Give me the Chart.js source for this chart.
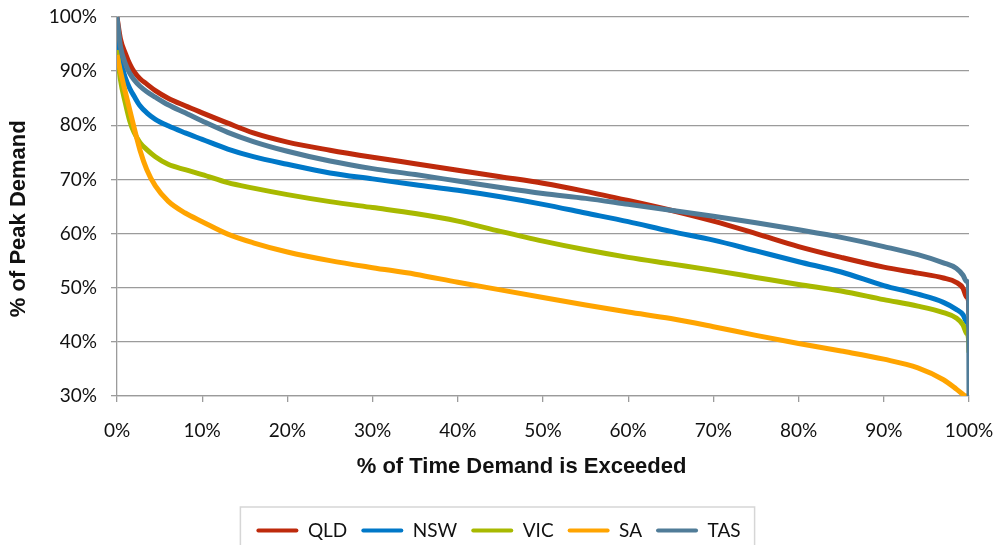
<!DOCTYPE html>
<html>
<head>
<meta charset="utf-8">
<title>Load Duration Curves by Region</title>
<script src="https://cdn.jsdelivr.net/npm/chart.js@4.4.1/dist/chart.umd.min.js"></script>
<style>
  html, body { margin: 0; padding: 0; background: #ffffff; }
  #wrap { width: 997px; height: 545px; }
</style>
</head>
<body>
<div id="wrap"><canvas id="ldc" width="997" height="545"></canvas></div>
<script>
// Share of the year (%) for which demand is exceeded
const timeExceeded = [0, 0.4, 1, 1.5, 2, 2.7, 3.5, 4.5, 6, 8, 10, 13, 16, 20, 25, 30, 35, 40, 45, 50,
                      55, 60, 65, 70, 75, 80, 85, 90, 94, 97, 98.5, 99.3, 99.7, 99.95, 100];

// Demand as % of each region's peak
const qld = [100, 96, 93.2, 91.3, 89.9, 88.6, 87.6, 86.4, 85.0, 83.6, 82.3, 80.4, 78.6, 76.9, 75.4, 74.1, 72.9, 71.7, 70.5, 69.3,
             67.8, 66.1, 64.3, 62.3, 60.0, 57.6, 55.6, 53.8, 52.7, 51.8, 51.0, 49.9, 48.3, 47.5, 45];
const nsw = [96, 92, 88.7, 86.8, 85.4, 83.6, 82.3, 81.1, 79.9, 78.6, 77.4, 75.6, 74.2, 72.8, 71.2, 70.1, 69.0, 68.0, 66.8, 65.4,
             63.8, 62.2, 60.4, 58.8, 56.8, 54.8, 52.9, 50.4, 48.8, 47.3, 46.0, 45.0, 43.7, 42.5, 40];
const vic = [93.9, 88.5, 84, 80.8, 78.7, 76.8, 75.5, 74.2, 72.8, 71.8, 70.9, 69.4, 68.4, 67.2, 65.9, 64.8, 63.7, 62.3, 60.4, 58.6,
             57.0, 55.6, 54.4, 53.2, 51.9, 50.6, 49.4, 47.8, 46.6, 45.4, 44.4, 43.1, 41.6, 40.5, 38];
const sa  = [93, 90, 86, 82.8, 79.6, 75.4, 71.8, 68.8, 66.0, 63.8, 62.2, 59.9, 58.3, 56.6, 55.0, 53.7, 52.5, 51.0, 49.6, 48.2,
             46.8, 45.5, 44.3, 42.8, 41.2, 39.7, 38.3, 36.8, 35.2, 33.0, 31.3, 30.3, 30, 30, 30];
const tas = [100, 94.6, 91.3, 89.6, 88.4, 87.2, 86.2, 85.2, 83.8, 82.3, 80.8, 78.7, 77.0, 75.2, 73.4, 72.0, 70.9, 69.7, 68.5, 67.4,
             66.5, 65.4, 64.3, 63.2, 62.0, 60.7, 59.3, 57.6, 56.1, 54.6, 53.6, 52.3, 51.2, 50.5, 30];

const regions = ['QLD', 'NSW', 'VIC', 'SA', 'TAS'];
const regionValues = [qld, nsw, vic, sa, tas];
const regionColors = ['#BE2A0C', '#0078C8', '#A8B900', '#FFA400', '#507C98'];

const TICK_FONT = { family: 'Lato, "Open Sans", sans-serif', size: 19 };
const TITLE_FONT = { family: '"Liberation Sans", Arial, sans-serif', size: 22, weight: 'bold' };
const GRID_COLOR = '#9b9b9b';
const BOTTOM_SHIFT = 5;   // legend row sits a little lower than the canvas edge allows

const datasets = regions.map((name, i) => ({
  label: name,
  data: timeExceeded.map((x, k) => ({ x: x, y: regionValues[i][k] })),
  borderColor: regionColors[i],
  backgroundColor: regionColors[i],
  borderWidth: 5,
  pointRadius: 0,
  cubicInterpolationMode: 'monotone',
  fill: false,
  // later series are painted over earlier ones
  order: regions.length - i
}));

// Light frame around the legend row
const legendFrame = {
  id: 'legendFrame',
  afterDraw(chart) {
    const lg = chart.legend;
    if (!lg || !lg.legendHitBoxes || !lg.legendHitBoxes.length) return;
    const boxes = lg.legendHitBoxes;
    const left = Math.min(...boxes.map(b => b.left)) - 16;
    const right = Math.max(...boxes.map(b => b.left + b.width)) + 14;
    const ctx = chart.ctx;
    ctx.save();
    ctx.strokeStyle = '#d6d6d6';
    ctx.lineWidth = 1.5;
    ctx.strokeRect(left, 507, right - left, chart.height);
    ctx.restore();
  }
};

new Chart(document.getElementById('ldc'), {
  type: 'line',
  data: { datasets },
  plugins: [legendFrame],
  options: {
    responsive: false,
    animation: false,
    events: [],
    layout: { padding: { top: 0, left: 0, right: 0, bottom: -BOTTOM_SHIFT } },
    scales: {
      x: {
        type: 'linear',
        min: 0,
        max: 100,
        ticks: {
          stepSize: 10,
          font: TICK_FONT,
          color: '#111',
          padding: 17,
          maxRotation: 0,
          callback: v => v + '%'
        },
        grid: { drawOnChartArea: false, drawTicks: true, tickLength: 6, color: GRID_COLOR, lineWidth: 1.3 },
        border: { color: GRID_COLOR, width: 1.3 },
        title: {
          display: true,
          // trailing spaces nudge the centred caption slightly left
          text: '% of Time Demand is Exceeded       ',
          font: TITLE_FONT,
          color: '#111',
          padding: { top: 0, bottom: 22 + BOTTOM_SHIFT }
        },
        afterFit(scale) {
          scale.paddingLeft = 0;
          scale.paddingRight = 28;
          scale.height = 149 + BOTTOM_SHIFT - (scale.chart.legend ? scale.chart.legend.height : 0);
        }
      },
      y: {
        min: 30,
        max: 100,
        ticks: {
          stepSize: 10,
          font: TICK_FONT,
          color: '#111',
          padding: 14,
          callback: v => v + '%'
        },
        grid: { color: GRID_COLOR, lineWidth: 1.3, tickLength: 6 },
        border: { color: GRID_COLOR, width: 1.3 },
        title: {
          display: true,
          // trailing spaces nudge the rotated caption slightly down
          text: '% of Peak Demand    ',
          font: TITLE_FONT,
          color: '#111',
          padding: { top: 6, bottom: 0 }
        },
        afterFit(scale) {
          scale.width = 117;
          scale.paddingTop = 17;
          scale.paddingBottom = 0;
        }
      }
    },
    plugins: {
      legend: {
        position: 'bottom',
        labels: {
          font: { family: 'Lato, "Open Sans", sans-serif', size: 19 },
          color: '#111',
          boxWidth: 42,
          boxHeight: 4,
          padding: 14,
          useBorderRadius: true,
          borderRadius: 2,
          sort: (a, b) => a.datasetIndex - b.datasetIndex,
          generateLabels(chart) {
            return Chart.defaults.plugins.legend.labels.generateLabels(chart)
              .map(item => Object.assign(item, { lineWidth: 0 }));
          }
        }
      },
      tooltip: { enabled: false }
    }
  }
});
</script>
</body>
</html>
